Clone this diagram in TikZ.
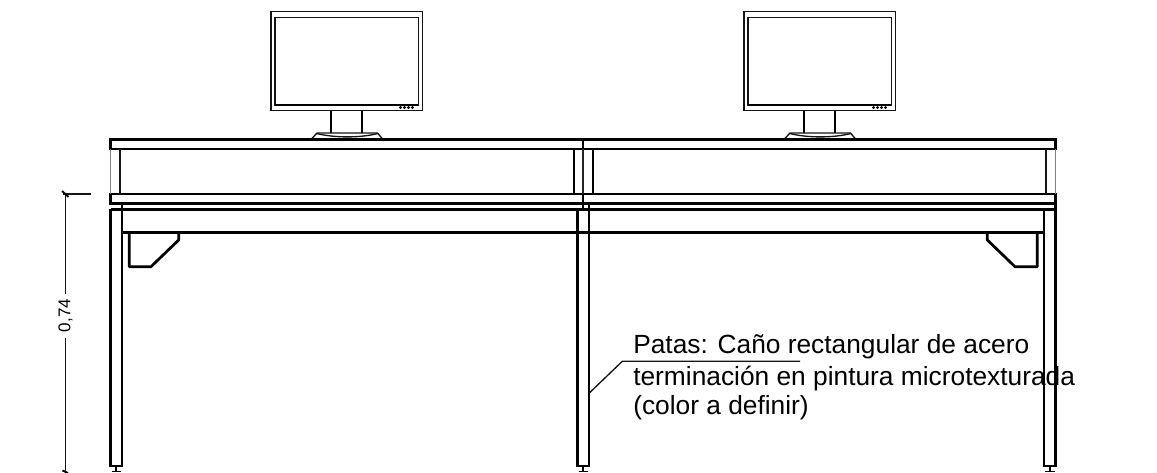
\documentclass[tikz,border=0pt]{standalone}
\usepackage{fontspec}
\setmainfont{Liberation Sans}
\tikzset{
  thick line/.style={line width=2.05pt,black},
  mid line/.style={line width=1.3pt,black},
  thin line/.style={line width=1pt,black!92},
  faint line/.style={line width=0.9pt,black!50},
  label text/.style={font=\fontsize{19.74pt}{22pt}\selectfont,anchor=west,inner sep=0pt,text=black},
  dim text/.style={font=\fontsize{12.8pt}{14pt}\selectfont,rotate=90,inner sep=0pt,text=black}
}
\newcommand{\monitor}[1]{%
  \begin{scope}[shift={(#1,0)}]
    \draw[thin line] (271,11.7) rectangle (422.3,110.7);
    \draw[thin line] (275,17.7) rectangle (418.3,105);
    \draw[mid line,line width=1.5pt] (275,104.6) -- (418.3,104.6);
    \foreach \dx in {400.5,404.5,408.5,412.5} \fill (\dx,107.6) circle (1.2pt);
    \draw[mid line] (331.3,110.7) -- (331.3,133) (362,110.7) -- (362,133);
    \draw[thin line] (311.5,139) -- (317,133) -- (377.5,133) -- (382.5,139);
    \draw[thin line] (317,133.6) .. controls (335,138) and (360,138) .. (377.5,133.6);
  \end{scope}}
\begin{document}
\begin{tikzpicture}[x=0.75pt,y=-0.75pt]
\useasboundingbox (0,0) rectangle (1157,473);
\fill[white] (0,0) rectangle (1157,473);
\monitor{0}
\monitor{473}
% table top
\draw[thick line] (110.3,139.7) rectangle (1055.7,149);
\draw[thick line] (110.3,194) rectangle (1055.7,203.3);
\draw[thick line] (583,139.7) -- (583,149);
\draw[thick line] (583,194) -- (583,209.3);
\draw[faint line] (110.8,149) -- (110.8,194);
\draw[thin line] (120,149) -- (120,194);
\draw[mid line] (574,149) -- (574,194) (592.7,149) -- (592.7,194);
\draw[line width=1.7pt,black!85] (583,149) -- (583,194);
\draw[thin line] (1046,149) -- (1046,194);
\draw[faint line] (1055.5,149) -- (1055.5,194);
% frame
\draw[thick line] (110.5,209.3) -- (1055.7,209.3);
\draw[thick line] (122,232.3) -- (1044,232.3);
% legs
\foreach \a/\b/\c in {110.5/122/116.2,577.3/589/583.2,1044/1055.7/1049.8}{
  \draw[thick line] (\a,209.3) -- (\a,466) -- (\b,466) -- (\b,203.3);
  \draw[mid line] (\c,466) -- (\c,472);
  \draw[mid line] (\c-4.7,471.6) -- (\c+4.7,471.6);
}
% brackets
\draw[thick line,line join=round] (129.3,232.3) -- (129.3,266.7) -- (151,266.7) -- (178.7,240) -- (178.7,232.3);
\draw[thick line,line join=round] (1037.3,232.3) -- (1037.3,266.7) -- (1015,266.7) -- (987.3,240) -- (987.3,232.3);
% dimension
\coordinate (dtop) at (65.5,194);
\coordinate (dtopgap) at (65.5,294);
\coordinate (dbotgap) at (65.5,338);
\coordinate (dbot) at (65.5,473);
\coordinate (dstart) at (62.5,194);
\coordinate (dext) at (90.7,194);
\node[dim text] (dimlabel) at (65.5,315.5) {0,74};
\draw[thin line] (dtop) -- (dtopgap);
\draw[thin line] (dbotgap) -- (dbot);
\draw[thin line] (dstart) -- (dext);
\draw[line width=1.4pt] (62,191) -- (68.5,197);
\draw[line width=1.4pt] (62.5,470.5) -- (68,473);
% label
\node[label text] (l1) at (633,346.5) {Patas: Caño rectangular de acero};
\node[label text] (l2) at (633,378.5) {terminación en pintura microtexturada};
\node[label text] (l3) at (633,407.5) {(color a definir)};
\coordinate (lead0) at (589.3,393);
\coordinate (lead1) at (622.3,361.3);
\coordinate (lead2) at (800,361.3);
\draw[thin line] (lead0) -- (lead1) -- (lead2);
\end{tikzpicture}
\end{document}
